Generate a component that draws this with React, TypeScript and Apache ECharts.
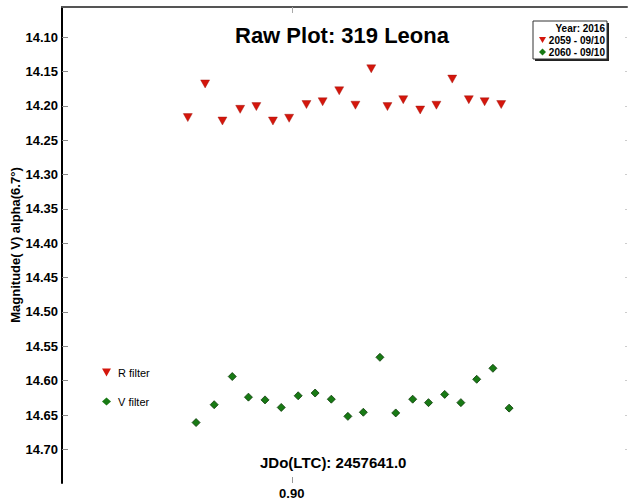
import React, { useEffect, useRef } from "react";
import * as echarts from "echarts";

const rTimes = [0.8724, 0.877, 0.8816, 0.8863, 0.8906, 0.895, 0.8993, 0.9039, 0.9082, 0.9126, 0.9169, 0.9211, 0.9254, 0.9296, 0.9341, 0.9384, 0.9426, 0.947, 0.9512, 0.9556];
const rMags = [14.217, 14.168, 14.222, 14.205, 14.201, 14.222, 14.218, 14.198, 14.194, 14.178, 14.199, 14.146, 14.201, 14.191, 14.206, 14.199, 14.161, 14.191, 14.194, 14.198];
const vTimes = [0.8746, 0.8794, 0.8842, 0.8885, 0.8929, 0.8972, 0.9017, 0.9062, 0.9105, 0.9149, 0.919, 0.9234, 0.9276, 0.9321, 0.9363, 0.9406, 0.9449, 0.9491, 0.9534, 0.9577];
const vMags = [14.661, 14.635, 14.594, 14.624, 14.628, 14.639, 14.622, 14.618, 14.627, 14.652, 14.646, 14.566, 14.647, 14.627, 14.632, 14.62, 14.632, 14.598, 14.582, 14.64];
const yTicks = [14.1, 14.15, 14.2, 14.25, 14.3, 14.35, 14.4, 14.45, 14.5, 14.55, 14.6, 14.65, 14.7];
const xTicks = [0.9];

const RED = "#d4160c";
const GREEN = "#187a14";
const FONT = "Liberation Sans, Arial, sans-serif";
const TRI = "path://M0,0L10,0L5,9Z";

export default function App() {
  const ref = useRef<HTMLDivElement>(null);
  useEffect(() => {
    const chart = echarts.init(ref.current!, null, { renderer: "svg" });
    const legX = 533, legY = 21, legW = 74, legH = 38;
    chart.setOption({
      animation: false,
      backgroundColor: "#fff",
      title: [
        { text: "Raw Plot: 319 Leona", left: 230, top: 19, textStyle: { fontFamily: FONT, fontSize: 22, fontWeight: "bold", color: "#000" } },
        { text: "JDo(LTC): 2457641.0", left: 255, top: 450, textStyle: { fontFamily: FONT, fontSize: 15, fontWeight: "bold", color: "#000" } },
      ],
      legend: {
        orient: "vertical",
        left: 97,
        top: 362,
        itemGap: 18,
        itemWidth: 9,
        itemHeight: 8,
        itemStyle: { borderWidth: 0 },
        textStyle: { fontFamily: FONT, fontSize: 11, color: "#000", padding: [0, 0, 0, 2] },
        data: [
          { name: "R filter", icon: TRI },
          { name: "V filter", icon: "diamond" },
        ],
      },
      grid: { left: 62, right: 1, top: 7, bottom: 17, containLabel: false, outerBoundsMode: "none" },
      xAxis: [
        {
          type: "value", min: 0.839, max: 0.989, position: "bottom",
          axisLine: { show: true, lineStyle: { color: "#000", width: 2, shadowColor: "#999", shadowOffsetY: 2 } },
          axisTick: { show: true, inside: true, length: 6, lineStyle: { color: "#999" }, customValues: xTicks },
          axisLabel: { customValues: xTicks, formatter: (v: number) => v.toFixed(2), fontFamily: FONT, fontSize: 13, fontWeight: "bold", color: "#000", margin: 4 },
          splitLine: { show: false },
        },
        {
          type: "value", min: 0.839, max: 0.989, position: "top",
          axisLine: { show: true, lineStyle: { color: "#555", width: 2 } },
          axisTick: { show: true, inside: true, length: 6, lineStyle: { color: "#aaa" }, customValues: xTicks },
          axisLabel: { show: false },
          splitLine: { show: false },
        },
      ],
      yAxis: [
        {
          type: "value", inverse: true, min: 14.056, max: 14.749, position: "left",
          name: "Magnitude( V) alpha(6.7°)", nameLocation: "middle", nameGap: 40, nameRotate: 90, nameMoveOverlap: false,
          nameTextStyle: { fontFamily: FONT, fontSize: 13, fontWeight: "bold", color: "#000" },
          axisLine: { show: true, lineStyle: { color: "#000", width: 2 } },
          axisTick: { show: true, inside: true, length: 6, lineStyle: { color: "#888" }, customValues: yTicks },
          axisLabel: { customValues: yTicks, formatter: (v: number) => v.toFixed(2), fontFamily: FONT, fontSize: 13, fontWeight: "bold", color: "#000", margin: 4 },
          splitLine: { show: false },
        },
        {
          type: "value", inverse: true, min: 14.056, max: 14.749, position: "right",
          axisLine: { show: false },
          axisTick: { show: true, inside: true, length: 2, lineStyle: { color: "#ccc" }, customValues: yTicks },
          axisLabel: { show: false },
          splitLine: { show: false },
        },
      ],
      series: [
        {
          name: "R filter", type: "scatter", symbol: TRI, symbolSize: [9, 8],
          itemStyle: { color: RED, opacity: 1, borderColor: "#9a0c06", borderWidth: 0.4 },
          data: rTimes.map((t, i) => [t, rMags[i]]),
        },
        {
          name: "V filter", type: "scatter", symbol: "diamond", symbolSize: 8,
          itemStyle: { color: GREEN, opacity: 1, borderColor: "#0b3a07", borderWidth: 0.8 },
          data: vTimes.map((t, i) => [t, vMags[i]]),
        },
      ],
      graphic: [
        { type: "rect", shape: { x: legX + 2, y: legY + 2, width: legW, height: legH }, style: { fill: "#222" }, z: 100 },
        { type: "rect", shape: { x: legX, y: legY, width: legW, height: legH }, style: { fill: "#fff", stroke: "#333", lineWidth: 1 }, z: 101 },
        { type: "text", x: legX + legW - 2, y: legY + 7, style: { text: "Year: 2016", fill: "#000", font: "bold 10px " + FONT, align: "right", verticalAlign: "middle" }, z: 102 },
        { type: "text", x: legX + legW - 2, y: legY + 19, style: { text: "2059 - 09/10", fill: "#000", font: "bold 10px " + FONT, align: "right", verticalAlign: "middle" }, z: 102 },
        { type: "text", x: legX + legW - 2, y: legY + 31, style: { text: "2060 - 09/10", fill: "#000", font: "bold 10px " + FONT, align: "right", verticalAlign: "middle" }, z: 102 },
        { type: "polygon", shape: { points: [[legX + 6, legY + 16], [legX + 13, legY + 16], [legX + 9.5, legY + 22]] }, style: { fill: RED }, z: 102 },
        { type: "polygon", shape: { points: [[legX + 9.5, legY + 27.5], [legX + 13, legY + 31], [legX + 9.5, legY + 34.5], [legX + 6, legY + 31]] }, style: { fill: GREEN }, z: 102 },
      ],
    });
    return () => chart.dispose();
  }, []);
  return <div ref={ref} style={{ position: "fixed", left: 0, top: 0, width: 628, height: 500 }} />;
}
